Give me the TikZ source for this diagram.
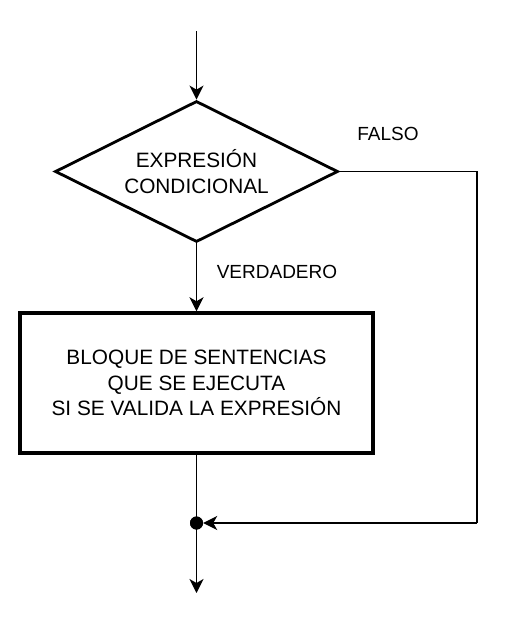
\documentclass[tikz,border=0pt]{standalone}
\usepackage{fontspec}
\setmainfont{Liberation Sans}
\usetikzlibrary{shapes.geometric,arrows.meta}
\begin{document}
\begin{tikzpicture}[x=1pt,y=-1pt,
  conn/.style={line width=1.6pt,-{Stealth[length=14pt,width=14pt,inset=4pt]}},
  plainline/.style={line width=1.6pt},
  decision/.style={diamond,draw,line width=2.8pt,minimum width=283pt,minimum height=141pt,inner sep=0pt},
  dtext/.style={align=center,inner sep=0pt,font=\fontsize{20.8}{26.5}\selectfont},
  block/.style={rectangle,draw,line width=3.5pt,minimum width=353pt,minimum height=140pt,inner sep=0pt,align=center,font=\fontsize{20.8}{25.5}\selectfont},
  lbl/.style={font=\fontsize{19}{23}\selectfont,inner sep=0pt},
  junction/.style={circle,fill,minimum size=13pt,inner sep=0pt}]
\useasboundingbox (0,0) rectangle (511,627);
\coordinate (start) at (196.5,31);
\node[decision] (cond) at (196.5,171.5) {};
\node[dtext] (condtext) at (cond.center) {EXPRESIÓN\\CONDICIONAL};
\node[block] (blk) at (196.5,383) {BLOQUE DE SENTENCIAS\\QUE SE EJECUTA\\SI SE VALIDA LA EXPRESIÓN};
\node[junction] (j) at (196.5,523) {};
\coordinate (corner1) at (477,171.5);
\coordinate (corner2) at (477,523);
\coordinate (out) at (196.5,593);
\node[lbl] (falso) at (388,134) {FALSO};
\node[lbl] (verd) at (277,272) {VERDADERO};
\draw[conn] (start) -- (cond.north);
\draw[conn] (cond.south) -- (blk.north);
\draw[plainline] (cond.east) -- (corner1) -- (corner2);
\draw[conn] (corner2) -- (j.east);
\draw[conn] (blk.south) -- (out);
\node[junction] at (j) {};
\end{tikzpicture}
\end{document}
